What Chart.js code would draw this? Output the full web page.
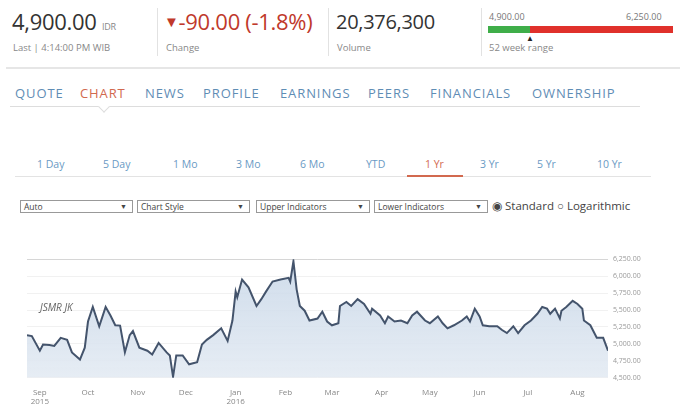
<!DOCTYPE html>
<html>
<head>
<meta charset="utf-8">
<script src="https://cdn.jsdelivr.net/npm/chart.js@4"></script>
<style>
  body { margin: 0; width: 683px; height: 409px; overflow: hidden; background: #fff;
         font-family: "Open Sans", "Noto Sans", sans-serif; position: relative; }
  .abs { position: absolute; white-space: nowrap; }
  .big { font-size: 22px; color: #333; top: 6px; letter-spacing: -0.3px; }
  .sub { font-size: 9.5px; color: #888; top: 41px; }
  .sep { position: absolute; top: 8px; width: 1px; height: 48px; background: #e2e2e2; }
  .nav { top: 84px; font-size: 13px; color: #5f8db5; letter-spacing: 0.9px; }
  .tab { top: 157px; font-size: 10.5px; color: #6a9ac4; }
  .sel { top: 200px; border: 1px solid #999; font-size: 8.5px; color: #444;
         line-height: 11px; padding-left: 3px; box-sizing: border-box; height: 13px; }
  .sel span { position: absolute; right: 5px; top: 0; font-size: 7px; }
  #wrap { position: absolute; left: 0; top: 250px; width: 683px; height: 159px; }
</style>
</head>
<body>
<!-- bandeau de cotação -->
<div class="abs big" style="left:12px;">4,900.00 <span style="font-size:9px;color:#888;">IDR</span></div>
<div class="abs sub" style="left:13px;">Last | 4:14:00 PM WIB</div>
<div class="sep" style="left:157px;"></div>
<div class="abs big" style="left:164px;color:#c0392b;"><span style="font-size:15px;position:relative;top:-3px;">&#9660;</span>-90.00 (-1.8%)</div>
<div class="abs sub" style="left:166px;">Change</div>
<div class="sep" style="left:328px;"></div>
<div class="abs big" style="left:336px;font-size:20px;top:8px;">20,376,300</div>
<div class="abs sub" style="left:337px;">Volume</div>
<div class="sep" style="left:481px;"></div>
<div class="abs" style="left:489px;top:10px;font-size:9px;color:#777;">4,900.00</div>
<div class="abs" style="left:626px;top:10px;font-size:9px;color:#777;">6,250.00</div>
<div class="abs" style="left:488px;top:26px;width:42px;height:7px;background:#3fae49;"></div>
<div class="abs" style="left:530px;top:26px;width:143px;height:7px;background:#e0312b;"></div>
<div class="abs" style="left:526px;top:32px;font-size:8px;color:#222;">&#9650;</div>
<div class="abs sub" style="left:489px;">52 week range</div>
<div class="abs" style="left:6px;top:67px;width:674px;height:2px;background:#e6e6e6;"></div>

<!-- navegação -->
<div class="abs nav" style="left:15px;">QUOTE</div>
<div class="abs nav" style="left:80px;color:#d2694f;">CHART</div>
<div class="abs nav" style="left:145px;">NEWS</div>
<div class="abs nav" style="left:203px;">PROFILE</div>
<div class="abs nav" style="left:280px;">EARNINGS</div>
<div class="abs nav" style="left:368px;">PEERS</div>
<div class="abs nav" style="left:430px;">FINANCIALS</div>
<div class="abs nav" style="left:532px;">OWNERSHIP</div>
<div class="abs" style="left:10px;top:106px;width:630px;height:1px;background:#ddd;"></div>
<div class="abs" style="left:100px;top:103px;width:7px;height:7px;background:#fff;border-right:1px solid #ddd;border-bottom:1px solid #ddd;transform:rotate(45deg);"></div>

<!-- períodos -->
<div class="abs tab" style="left:37px;">1 Day</div>
<div class="abs tab" style="left:103px;">5 Day</div>
<div class="abs tab" style="left:173px;">1 Mo</div>
<div class="abs tab" style="left:236px;">3 Mo</div>
<div class="abs tab" style="left:300px;">6 Mo</div>
<div class="abs tab" style="left:366px;">YTD</div>
<div class="abs tab" style="left:425px;color:#d2694f;">1 Yr</div>
<div class="abs tab" style="left:480px;">3 Yr</div>
<div class="abs tab" style="left:537px;">5 Yr</div>
<div class="abs tab" style="left:597px;">10 Yr</div>
<div class="abs" style="left:15px;top:176px;width:636px;height:1px;background:#e3e3e3;"></div>
<div class="abs" style="left:407px;top:175px;width:56px;height:2px;background:#d2694f;"></div>

<!-- seletores -->
<div class="abs sel" style="left:20px;width:113px;">Auto<span>&#9660;</span></div>
<div class="abs sel" style="left:137px;width:113px;">Chart Style<span>&#9660;</span></div>
<div class="abs sel" style="left:256px;width:114px;">Upper Indicators<span>&#9660;</span></div>
<div class="abs sel" style="left:374px;width:114px;">Lower Indicators<span>&#9660;</span></div>
<div class="abs" style="left:492px;top:198px;font-size:11.5px;color:#444;">&#9673; Standard &#9675; Logarithmic</div>

<div id="wrap"><canvas id="grafico"></canvas></div>
<div class="abs" style="left:40px;top:300px;font-size:10px;color:#666;font-style:italic;">JSMR JK</div>

<script>
// Dias corridos desde 24/08/2015 e preço de fechamento (IDR)
const dias = [0, 3, 8, 10, 14, 17, 21, 25, 28, 33, 36, 38, 41, 45, 49, 52, 55, 58, 61, 64,
  66, 70, 75, 78, 82, 87, 89, 91, 93, 97, 101, 106, 109, 112, 116, 121, 125, 128, 130, 131,
  134, 138, 143, 146, 149, 153, 158, 163, 164, 166, 168, 170, 173, 176, 181, 184, 187, 190, 194, 195,
  199, 202, 206, 210, 214, 215, 220, 223, 225, 229, 233, 237, 240, 243, 248, 251, 256, 259, 262, 266,
  271, 274, 276, 279, 282, 284, 288, 293, 296, 299, 303, 306, 310, 314, 318, 321, 324, 326, 329, 332,
  333, 336, 340, 343, 346, 347, 351, 355, 359, 362];
const precos = [5130, 5115, 4900, 4990, 4985, 4970, 5090, 5060, 4875, 4770, 4945, 5330, 5545, 5260, 5545, 5420, 5275, 5270, 4875, 5130,
  5190, 4945, 4900, 4845, 5015, 4875, 4830, 4515, 4830, 4830, 4700, 4730, 4990, 5060, 5130, 5230, 5045, 5345, 5775, 5690,
  5950, 5835, 5560, 5660, 5775, 5920, 5950, 5975, 5920, 6220, 5805, 5560, 5490, 5345, 5375, 5475, 5330, 5275, 5305, 5560,
  5620, 5560, 5660, 5590, 5445, 5520, 5420, 5305, 5405, 5330, 5345, 5305, 5420, 5475, 5345, 5305, 5405, 5305, 5230, 5275,
  5345, 5405, 5330, 5520, 5405, 5275, 5260, 5260, 5205, 5160, 5260, 5160, 5275, 5345, 5445, 5545, 5520, 5445, 5520, 5375,
  5490, 5545, 5635, 5590, 5520, 5345, 5275, 5090, 5090, 4900];

// Rótulos do eixo X: início de cada mês (dias desde 24/08/2015)
const diasMeses = [8, 38, 69, 99, 130, 161, 190, 221, 251, 282, 312, 343];
const nomesMeses = ["Sep", "Oct", "Nov", "Dec", "Jan", "Feb", "Mar", "Apr", "May", "Jun", "Jul", "Aug"];
const anosMeses = ["2015", "", "", "", "2016", "", "", "", "", "", "", ""];

const ticksY = [4500, 4750, 5000, 5250, 5500, 5750, 6000, 6250];

const canvas = document.getElementById("grafico");
const ctx = canvas.getContext("2d");
const gradiente = ctx.createLinearGradient(0, 9, 0, 131);
gradiente.addColorStop(0, "rgba(200, 215, 232, 0.85)");
gradiente.addColorStop(1, "rgba(228, 235, 243, 0.9)");

new Chart(canvas, {
  type: "line",
  data: {
    datasets: [{
      data: dias.map((d, i) => ({ x: d, y: precos[i] })),
      borderColor: "#44546c",
      borderWidth: 2,
      backgroundColor: gradiente,
      fill: "start",
      pointRadius: 0,
      tension: 0,
    }],
  },
  options: {
    responsive: true,
    maintainAspectRatio: false,
    animation: false,
    layout: { padding: { left: 27, top: 9, right: 0, bottom: 0 } },
    plugins: { legend: { display: false }, tooltip: { enabled: false } },
    scales: {
      x: {
        type: "linear",
        min: 0,
        max: 362,
        grid: { display: false },
        border: { display: false },
        afterBuildTicks: (axis) => { axis.ticks = diasMeses.map((v) => ({ value: v })); },
        ticks: {
          autoSkip: false,
          maxRotation: 0,
          padding: 2,
          color: "#888",
          font: { size: 8, family: "Open Sans" },
          callback: (v) => {
            const i = diasMeses.indexOf(v);
            return anosMeses[i] ? [nomesMeses[i], anosMeses[i]] : nomesMeses[i];
          },
        },
      },
      y: {
        position: "right",
        min: 4500,
        max: 6250,
        afterBuildTicks: (axis) => { axis.ticks = ticksY.map((v) => ({ value: v })); },
        afterFit: (axis) => { axis.width = 75; },
        grid: {
          color: (c) => (c.tick && c.tick.value === 6250 ? "#d6d6d6" : "#f1f1f1"),
          drawTicks: false,
        },
        border: { display: false },
        ticks: {
          padding: 5,
          color: "#999",
          font: { size: 7, family: "Open Sans" },
          callback: (v) => v.toLocaleString("en-US", { minimumFractionDigits: 2 }),
        },
      },
    },
  },
});
</script>
</body>
</html>
